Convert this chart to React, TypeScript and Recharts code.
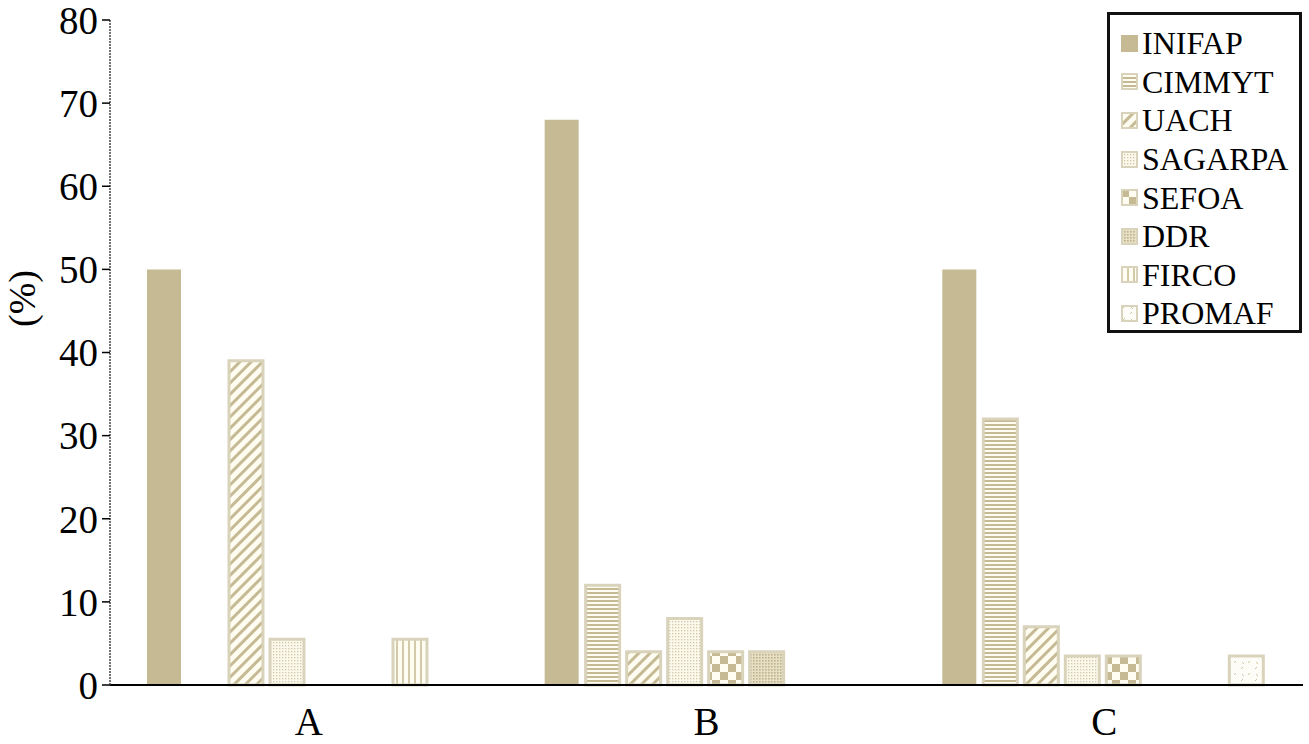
import { BarChart, Bar, XAxis, YAxis } from "recharts";

const categories = ["A", "B", "C"];
const institutions = ["INIFAP", "CIMMYT", "UACH", "SAGARPA", "SEFOA", "DDR", "FIRCO", "PROMAF"];
const inifap = [50, 68, 50];
const cimmyt = [0, 12, 32];
const uach = [39, 4, 7];
const sagarpa = [5.5, 8, 3.5];
const sefoa = [0, 4, 3.5];
const ddr = [0, 4, 0];
const firco = [5.5, 0, 0];
const promaf = [0, 0, 3.5];
const yTicks = [0, 10, 20, 30, 40, 50, 60, 70, 80];

const seriesValues = [inifap, cimmyt, uach, sagarpa, sefoa, ddr, firco, promaf];

const data = categories.map((c, i) => {
  const row: Record<string, string | number> = { name: c };
  institutions.forEach((k, j) => {
    row[k] = seriesValues[j][i];
  });
  return row;
});

const BASE = "#c5ba93";
const EDGE = "#d9d3bb";
const BG = "#fffdf2";
const FONT = "'Liberation Serif', 'Times New Roman', serif";

function Patterns({ p }: { p: string }) {
  return (
    <defs>
      <pattern id={`${p}-CIMMYT`} width="4" height="4" patternUnits="userSpaceOnUse">
        <rect width="4" height="4" fill={BG} />
        <rect y="0" width="4" height="2" fill={BASE} />
      </pattern>
      <pattern id={`${p}-UACH`} width="8" height="8" patternUnits="userSpaceOnUse" patternTransform="rotate(45)">
        <rect width="8" height="8" fill={BG} />
        <rect x="0" width="3" height="8" fill={BASE} />
      </pattern>
      <pattern id={`${p}-SAGARPA`} width="3" height="3" patternUnits="userSpaceOnUse">
        <rect width="3" height="3" fill="#fbf8ec" />
        <rect width="1.3" height="1.3" fill="#d2c9a8" />
      </pattern>
      <pattern id={`${p}-SEFOA`} width="16" height="16" patternUnits="userSpaceOnUse">
        <rect width="16" height="16" fill={BG} />
        <rect width="8" height="8" fill={BASE} />
        <rect x="8" y="8" width="8" height="8" fill={BASE} />
      </pattern>
      <pattern id={`${p}-DDR`} width="3" height="3" patternUnits="userSpaceOnUse">
        <rect width="3" height="3" fill="#e6dfc6" />
        <rect width="1.6" height="1.6" fill="#bfb38a" />
      </pattern>
      <pattern id={`${p}-FIRCO`} width="6" height="6" patternUnits="userSpaceOnUse">
        <rect width="6" height="6" fill={BG} />
        <rect x="0" width="2" height="6" fill="#d3caa9" />
      </pattern>
      <pattern id={`${p}-PROMAF`} width="14" height="12" patternUnits="userSpaceOnUse">
        <rect width="14" height="12" fill="#fefcf6" />
        <path d="M2 3 L4 1 M9 9 L11 7 M10 2 L12 4" stroke="#cfc6a4" strokeWidth="1" />
      </pattern>
    </defs>
  );
}

function fillOf(p: string, name: string) {
  return name === "INIFAP" ? BASE : `url(#${p}-${name})`;
}

function LegendBox() {
  return (
    <div
      style={{
        position: "absolute",
        left: 1107,
        top: 12,
        border: "3px solid #111",
        background: "#fff",
        width: 189,
        height: 306,
        boxSizing: "content-box",
        paddingTop: 9,
        fontFamily: FONT,
      }}
    >
      {institutions.map((name) => (
        <div key={name} style={{ display: "flex", alignItems: "center", height: 38.6, paddingLeft: 11 }}>
          <svg width={17} height={17} style={{ marginRight: 4 }}>
            <Patterns p={`lg-${name}`} />
            <rect
              x={1}
              y={1}
              width={15}
              height={15}
              fill={fillOf(`lg-${name}`, name)}
              stroke={name === "INIFAP" ? BASE : EDGE}
              strokeWidth={2}
            />
          </svg>
          <span style={{ fontSize: 32, color: "#000", lineHeight: 1 }}>{name}</span>
        </div>
      ))}
    </div>
  );
}

export default function App() {
  return (
    <div style={{ position: "absolute", left: 0, top: 0, width: 1309, height: 744, background: "#fff" }}>
      <BarChart
        width={1309}
        height={744}
        data={data}
        margin={{ top: 20, right: 6, bottom: 29, left: 0 }}
        barCategoryGap="9.3%"
        barGap={7}
      >
        <Patterns p="bar" />
        <XAxis
          dataKey="name"
          height={30}
          tickLine={false}
          axisLine={{ stroke: "#000", strokeWidth: 2 }}
          tick={{ fontSize: 39, fill: "#000", fontFamily: FONT }}
          tickMargin={16}
        />
        <YAxis
          domain={[0, 80]}
          ticks={yTicks}
          interval={0}
          width={110}
          axisLine={{ stroke: "#444", strokeDasharray: "2 1", strokeWidth: 1.5 }}
          tickLine={{ stroke: "#000", strokeWidth: 1.5 }}
          tickSize={8}
          tickMargin={4}
          tick={{ fontSize: 39, fill: "#000", fontFamily: FONT }}
          label={{
            value: "(%)",
            angle: -90,
            position: "insideLeft",
            dx: 17,
            dy: -54,
            style: { fontSize: 38, fill: "#000", fontFamily: FONT, textAnchor: "middle" },
          }}
        />
        {institutions.map((name) => (
          <Bar
            key={name}
            dataKey={name}
            fill={fillOf("bar", name)}
            stroke={name === "INIFAP" ? BASE : EDGE}
            strokeWidth={name === "INIFAP" ? 0 : 3}
            isAnimationActive={false}
          />
        ))}
      </BarChart>
      <LegendBox />
    </div>
  );
}
